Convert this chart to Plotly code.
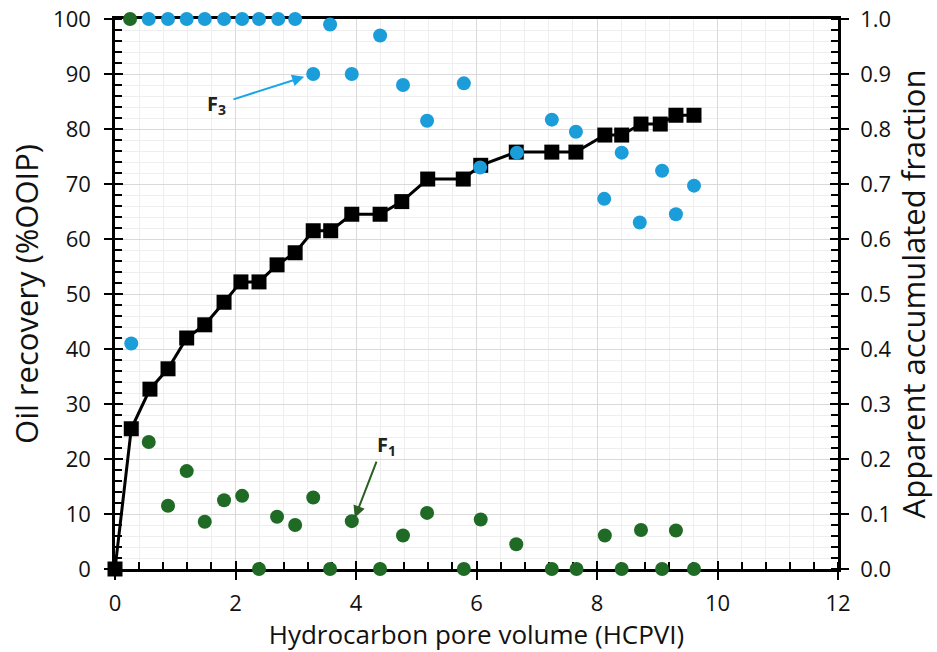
import plotly.graph_objects as go

# Oil recovery curve (%OOIP) versus injected hydrocarbon pore volume
hcpvi = [0.0, 0.27, 0.58, 0.88, 1.19, 1.49, 1.81, 2.09, 2.39, 2.69, 2.99, 3.29, 3.58,
         3.93, 4.40, 4.76, 5.19, 5.78, 6.07, 6.66, 7.25, 7.65, 8.13, 8.41, 8.73, 9.05,
         9.31, 9.61]
recovery = [0.0, 25.5, 32.7, 36.4, 42.0, 44.4, 48.5, 52.2, 52.2, 55.3, 57.5, 61.5, 61.5,
            64.5, 64.5, 66.8, 70.9, 70.9, 73.4, 75.8, 75.8, 75.8, 78.9, 78.9, 80.9, 80.9,
            82.5, 82.5]

# Apparent accumulated fraction of component F3
f3_x = [0.27, 0.56, 0.88, 1.19, 1.49, 1.81, 2.11, 2.39, 2.71, 2.99, 3.29, 3.57, 3.93,
        4.40, 4.78, 5.18, 5.79, 6.06, 6.67, 7.25, 7.65, 8.12, 8.41, 8.71, 9.08, 9.31, 9.61]
f3_y = [0.41, 1.0, 1.0, 1.0, 1.0, 1.0, 1.0, 1.0, 1.0, 1.0, 0.90, 0.99, 0.90,
        0.97, 0.88, 0.815, 0.883, 0.73, 0.757, 0.817, 0.795, 0.673, 0.757, 0.63, 0.724,
        0.645, 0.697]

# Apparent accumulated fraction of component F1
f1_x = [0.25, 0.56, 0.88, 1.19, 1.49, 1.81, 2.11, 2.39, 2.69, 2.99, 3.29, 3.57, 3.93,
        4.40, 4.78, 5.18, 5.79, 6.07, 6.66, 7.25, 7.66, 8.13, 8.41, 8.73, 9.08, 9.31, 9.61]
f1_y = [1.0, 0.231, 0.115, 0.178, 0.086, 0.125, 0.133, 0.0, 0.095, 0.08, 0.13, 0.0, 0.087,
        0.0, 0.061, 0.102, 0.0, 0.09, 0.045, 0.0, 0.0, 0.061, 0.0, 0.071, 0.0, 0.07, 0.0]

x_ticks = [0, 2, 4, 6, 8, 10, 12]
y_ticks = [0, 10, 20, 30, 40, 50, 60, 70, 80, 90, 100]
y2_ticks = [0.0, 0.1, 0.2, 0.3, 0.4, 0.5, 0.6, 0.7, 0.8, 0.9, 1.0]

BLUE = "#1a9dd9"
GREEN = "#1f6b26"
FONT = "Open Sans"

fig = go.Figure()

fig.add_trace(go.Scatter(
    x=hcpvi, y=recovery, mode="lines+markers", cliponaxis=False,
    line=dict(color="black", width=3),
    marker=dict(symbol="square", size=15, color="black"),
    xaxis="x", yaxis="y"))

fig.add_trace(go.Scatter(
    x=f1_x, y=f1_y, mode="markers", cliponaxis=False,
    marker=dict(size=14, color=GREEN),
    xaxis="x", yaxis="y2"))

fig.add_trace(go.Scatter(
    x=f3_x, y=f3_y, mode="markers", cliponaxis=False,
    marker=dict(size=14, color=BLUE),
    xaxis="x", yaxis="y2"))

# invisible traces that anchor the overlay axes carrying the inner half of major ticks
fig.add_trace(go.Scatter(x=[None], y=[None], xaxis="x2", yaxis="y3", showlegend=False,
                         hoverinfo="skip"))
fig.add_trace(go.Scatter(x=[None], y=[None], xaxis="x2", yaxis="y4", showlegend=False,
                         hoverinfo="skip"))

tickfont = dict(family=FONT, size=22, color="#111111")
xtitlefont = dict(family=FONT, size=26, color="#111111")
ytitlefont = dict(family=FONT, size=31, color="#111111")

common_line = dict(showline=True, linecolor="black", linewidth=2.5, layer="below traces",
                   zeroline=False, tickcolor="black", tickwidth=2, automargin=False)

overlay = dict(showticklabels=False, showgrid=False, showline=False, zeroline=False,
               tickcolor="black", tickwidth=2, layer="below traces", automargin=False,
               ticks="inside", ticklen=8)

fig.update_layout(
    width=937, height=652,
    margin=dict(l=115, r=99, t=19, b=83),
    paper_bgcolor="white", plot_bgcolor="white",
    showlegend=False,
    xaxis=dict(
        range=[0, 12], tickvals=x_ticks, ticks="outside", ticklen=8,
        mirror=True, tickfont=tickfont, ticklabelstandoff=5,
        title=dict(text="Hydrocarbon pore volume (HCPVI)", font=xtitlefont, standoff=6),
        showgrid=True, gridcolor="#d9d9d9", gridwidth=1,
        minor=dict(dtick=0.4, ticks="inside", ticklen=7, tickcolor="black", tickwidth=2,
                   showgrid=True, gridcolor="#eeeeee", gridwidth=1),
        **common_line),
    yaxis=dict(
        range=[0, 100], tickvals=y_ticks, ticks="outside", ticklen=8,
        tickfont=tickfont, ticklabelstandoff=9,
        title=dict(text="Oil recovery (%OOIP)", font=ytitlefont, standoff=6),
        showgrid=True, gridcolor="#d9d9d9", gridwidth=1,
        minor=dict(dtick=2, ticks="inside", ticklen=7, tickcolor="black", tickwidth=2,
                   showgrid=True, gridcolor="#eeeeee", gridwidth=1),
        **common_line),
    yaxis2=dict(
        range=[0, 1], tickvals=y2_ticks, tickformat=".1f", ticks="outside", ticklen=8,
        overlaying="y", side="right", anchor="x",
        tickfont=tickfont, ticklabelstandoff=7,
        title=dict(text="Apparent accumulated fraction", font=ytitlefont, standoff=4),
        showgrid=False,
        minor=dict(dtick=0.02, ticks="inside", ticklen=7, tickcolor="black", tickwidth=2,
                   showgrid=False),
        **common_line),
    xaxis2=dict(range=[0, 12], tickvals=x_ticks, overlaying="x", anchor="y3",
                side="bottom", **overlay),
    yaxis3=dict(range=[0, 100], tickvals=y_ticks, overlaying="y", anchor="x2",
                side="left", **overlay),
    yaxis4=dict(range=[0, 1], tickvals=y2_ticks, overlaying="y", anchor="x2",
                side="right", **overlay),
)

# component labels with pointer arrows
fig.add_annotation(x=3.14, y=89.5, ax=1.94, ay=85.3, xref="x", yref="y",
                   axref="x", ayref="y", text="", showarrow=True,
                   arrowhead=2, arrowsize=1.2, arrowwidth=2, arrowcolor="#1aa6e6")
fig.add_annotation(x=1.68, y=84.5, xref="x", yref="y", showarrow=False,
                   text="<b>F<sub>3</sub></b>",
                   font=dict(family=FONT, size=20, color="#222222"))

fig.add_annotation(x=3.98, y=9.3, ax=4.35, ay=19.8, xref="x", yref="y",
                   axref="x", ayref="y", text="", showarrow=True,
                   arrowhead=2, arrowsize=1.2, arrowwidth=2, arrowcolor="#2a5e22")
fig.add_annotation(x=4.5, y=22.4, xref="x", yref="y", showarrow=False,
                   text="<b>F<sub>1</sub></b>",
                   font=dict(family=FONT, size=20, color="#222222"))

fig.write_html("out.html")
